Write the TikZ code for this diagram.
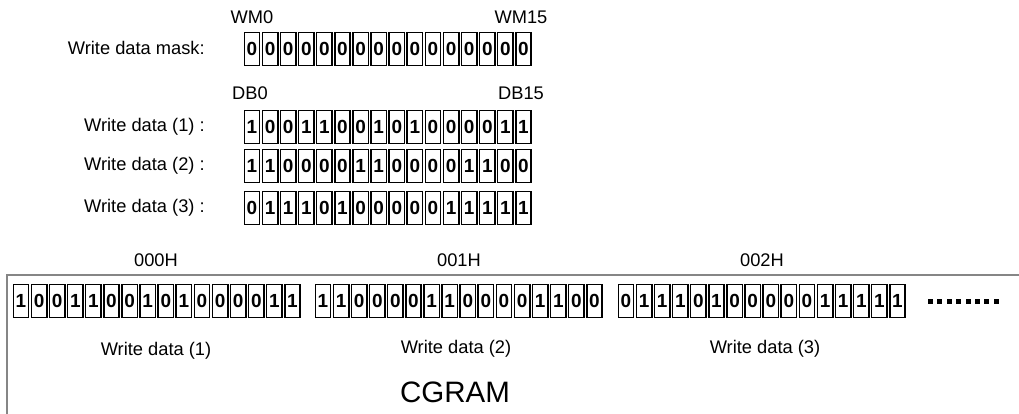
\documentclass[tikz,border=0pt]{standalone}
\usepackage{fontspec}
\setmainfont{Liberation Sans}
\usetikzlibrary{positioning}

\begin{document}
\begin{tikzpicture}[x=0.025cm, y=-0.025cm, font=\fontsize{13}{15}\selectfont]
\tikzset{
  bitcell/.style={draw, line width=1.1pt, inner sep=0pt, minimum width=0.385cm, minimum height=0.82cm, font=\fontsize{13.5}{15}\selectfont\bfseries},
  rowlabel/.style={anchor=east, inner sep=0pt},
  addr/.style={inner sep=0pt},
  frame/.style={draw=gray!95, line width=2.1pt}
}
  \useasboundingbox (0,0) rectangle (1019,414);

  % write data mask and the three write data words
  \node[rowlabel] (masklab) at (205,48) {Write data mask:};
  \foreach \b [count=\i from 0] in {0,0,0,0,0,0,0,0,0,0,0,0,0,0,0,0}
    \node[bitcell] (m\i) at (252+18.1*\i,49) {\b};
  \node (wm0) at (252,17) {WM0};
  \node (wm15) at (521,17) {WM15};

  \node (db0) at (250,93) {DB0};
  \node (db15) at (521,93) {DB15};
  \node[rowlabel] (lab1) at (205,127) {Write data (1) :};
  \foreach \b [count=\i from 0] in {1,0,0,1,1,0,0,1,0,1,0,0,0,0,1,1}
    \node[bitcell] (a\i) at (252+18.1*\i,127) {\b};
  \node[rowlabel] (lab2) at (205,166) {Write data (2) :};
  \foreach \b [count=\i from 0] in {1,1,0,0,0,0,1,1,0,0,0,0,1,1,0,0}
    \node[bitcell] (b\i) at (252+18.1*\i,166) {\b};
  \node[rowlabel] (lab3) at (205,208) {Write data (3) :};
  \foreach \b [count=\i from 0] in {0,1,1,1,0,1,0,0,0,0,0,1,1,1,1,1}
    \node[bitcell] (c\i) at (252+18.1*\i,208) {\b};

  % CGRAM
  \draw[frame] (7,414) -- (7,275) -- (1019,275);
  \node[addr] (h0) at (156,260) {000H};
  \node[addr] (h1) at (459,260) {001H};
  \node[addr] (h2) at (762,260) {002H};
  \foreach \b [count=\i from 0] in {1,0,0,1,1,0,0,1,0,1,0,0,0,0,1,1}
    \node[bitcell] (ga\i) at (21+18.1*\i,301) {\b};
  \foreach \b [count=\i from 0] in {1,1,0,0,0,0,1,1,0,0,0,0,1,1,0,0}
    \node[bitcell] (gb\i) at (323+18.1*\i,301) {\b};
  \foreach \b [count=\i from 0] in {0,1,1,1,0,1,0,0,0,0,0,1,1,1,1,1}
    \node[bitcell] (gc\i) at (626+18.1*\i,301) {\b};
  \foreach \k in {0,...,7}
    \fill (928+\k*9.4,299) rectangle +(5,5);
  \node (w1) at (156,351) {Write data (1)};
  \node (w2) at (456,349) {Write data (2)};
  \node (w3) at (765,349) {Write data (3)};
  \node[font=\fontsize{21}{24}\selectfont] (cgram) at (455,392) {CGRAM};
\end{tikzpicture}
\end{document}
